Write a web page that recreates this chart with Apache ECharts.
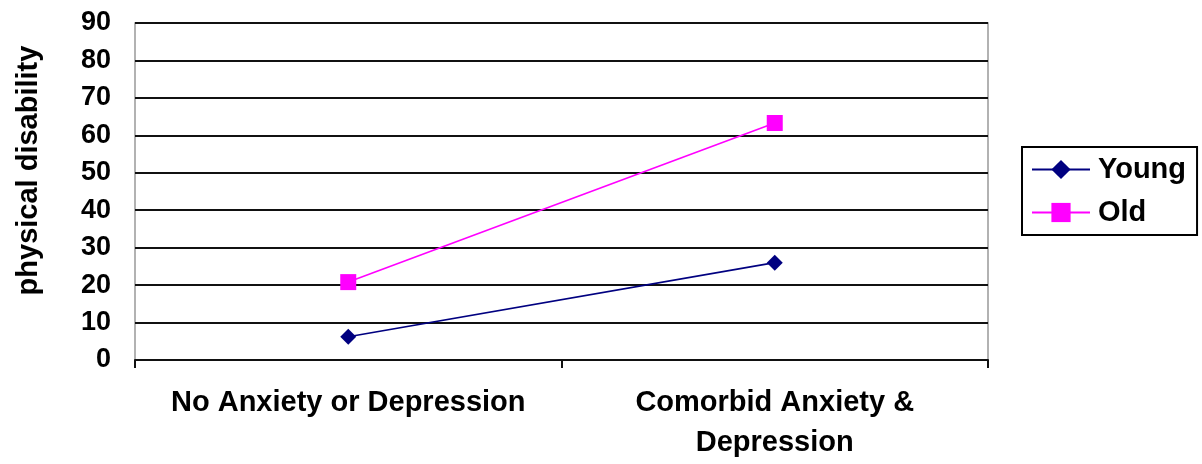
<!DOCTYPE html>
<html><head><meta charset="utf-8">
<script src="https://cdn.jsdelivr.net/npm/echarts@6/dist/echarts.min.js"></script>
<style>html,body{margin:0;padding:0;background:#fff}#c{width:1202px;height:464px}</style>
</head><body><div id="c"></div>
<script>
const categories = ['No Anxiety or Depression', 'Comorbid Anxiety &\nDepression'];
const young = [6.2, 26.0];
const old = [20.8, 63.3];
const yTicks = [0, 90, 10];

const chart = echarts.init(document.getElementById('c'));
const font = 'Liberation Sans, Arial, sans-serif';
chart.setOption({
  animation: false,
  textStyle: {fontFamily: font},
  grid: {left: 135, top: 23, width: 853, height: 337, containLabel: false, outerBoundsMode: 'none',
         show: true, borderColor: '#999', borderWidth: 1.5, backgroundColor: 'transparent'},
  legend: {
    orient: 'vertical', left: 1022, top: 147,
    padding: [8, 11, 8, 9], itemGap: 14,
    borderColor: '#000', borderWidth: 2,
    itemWidth: 58, itemHeight: 24,
    textStyle: {fontFamily: font, fontWeight: 'bold', fontSize: 29, color: '#000', padding: [0,0,0,3]},
    data: ['Young', 'Old']
  },
  xAxis: {
    type: 'category', data: categories, boundaryGap: true,
    axisLine: {lineStyle: {color: '#111', width: 2}},
    axisTick: {show: true, length: 8, lineStyle: {color: '#111', width: 2}},
    axisLabel: {margin: 23, fontFamily: font, fontWeight: 'bold', fontSize: 29, color: '#000', lineHeight: 40, interval: 0}
  },
  yAxis: {
    type: 'value', min: yTicks[0], max: yTicks[1], interval: yTicks[2],
    name: 'physical disability', nameLocation: 'middle', nameGap: 92, nameRotate: 90,
    nameTextStyle: {fontFamily: font, fontWeight: 'bold', fontSize: 29, color: '#000', padding: [0,0,0,42]},
    axisLine: {show: false},
    axisTick: {show: false},
    axisLabel: {margin: 24, fontFamily: font, fontWeight: 'bold', fontSize: 27, color: '#000'},
    splitLine: {lineStyle: {color: '#111', width: 2}}
  },
  series: [
    {name: 'Young', type: 'line', data: young, symbol: 'diamond', symbolSize: 16,
     lineStyle: {color: '#000080', width: 1.6}, itemStyle: {color: '#000080'}},
    {name: 'Old', type: 'line', data: old, symbol: 'rect', symbolSize: 16,
     lineStyle: {color: '#ff00ff', width: 1.6}, itemStyle: {color: '#ff00ff'}}
  ]
});
</script></body></html>
